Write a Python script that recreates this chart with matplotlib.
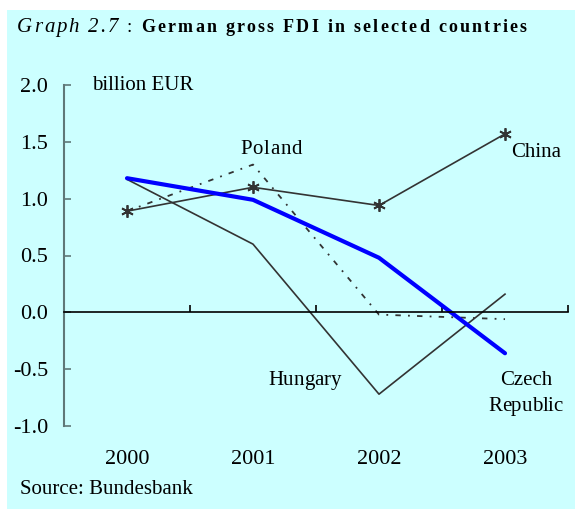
import matplotlib.pyplot as plt
from matplotlib.patches import Rectangle
from matplotlib.font_manager import FontProperties

years = ["2000", "2001", "2002", "2003"]
china = [0.89, 1.10, 0.94, 1.57]
czech = [1.18, 0.99, 0.48, -0.36]
hungary = [1.17, 0.60, -0.72, 0.16]
poland = [0.89, 1.30, -0.02, -0.06]
yticks = [2.0, 1.5, 1.0, 0.5, 0.0, -0.5, -1.0]

plt.rcParams['font.family'] = ['Liberation Serif', 'DejaVu Serif']
bg = "#ccffff"
W, H = 575, 509

fig = plt.figure(figsize=(5.75, 5.09), dpi=100)
fig.patch.set_facecolor("white")
fig.patches.append(Rectangle((7 / W, 0), 1, 1 - 10 / H, transform=fig.transFigure,
                             facecolor=bg, edgecolor="none", zorder=-5))
renderer = fig.canvas.get_renderer()


def text_w(s, fp):
    # width in px of s (trailing spaces counted via a guard char)
    w1, _, _ = renderer.get_text_width_height_descent(s + "|", fp, ismath=False)
    w2, _, _ = renderer.get_text_width_height_descent("|", fp, ismath=False)
    return w1 - w2


def spaced(x0, x1, y, s, **kw):
    # letter-spaced text spread from x0 to x1 (pixels), baseline at y (pixels from top)
    fp = FontProperties(family=plt.rcParams['font.family'], size=kw.get("fontsize", 13),
                        weight=kw.get("fontweight", "normal"), style=kw.get("style", "normal"))
    total = text_w(s, fp)
    extra = (x1 - x0 - total) / max(len(s) - 1, 1)
    for i, ch in enumerate(s):
        if ch == " ":
            continue
        xp = x0 + text_w(s[:i], fp) + i * extra
        fig.text(xp / W, 1 - y / H, ch, va="baseline", ha="left", **kw)


ax = fig.add_axes([64 / W, 1 - 426 / H, 504 / W, 341 / H])
ax.set_facecolor("none")
x = range(len(years))

ax.plot(x, hungary, color="#333333", lw=1.2)
ax.plot(x, poland, color="#333333", lw=1.3, linestyle=(0, (3, 4, 1, 4)))
ax.plot(x, china, color="#333333", lw=1.2, marker=(6, 2, 0), ms=9, mew=1.3)
ax.plot(x, czech, color="#0000ff", lw=3, solid_capstyle="round")

ax.set_xlim(-0.5, 3.5)
ax.set_ylim(-1.0, 2.0)
ax.set_yticks(yticks)
ax.set_yticklabels([f"{v:.1f}" for v in yticks], fontsize=16)
ax.tick_params(axis="y", direction="in", length=5, width=1.2, color="#5f7878", pad=11.5)

for s in ["top", "right"]:
    ax.spines[s].set_visible(False)
ax.spines["left"].set_color("#5f7878")
ax.spines["left"].set_linewidth(1.5)
ax.spines["bottom"].set_position(("data", 0))
ax.spines["bottom"].set_linewidth(1.2)

ax.set_xticks(list(x))
ax.set_xticklabels(years, fontsize=16)
ax.set_xticks([-0.5, 0.5, 1.5, 2.5, 3.5], minor=True)
ax.tick_params(axis="x", which="major", length=0, pad=99)
ax.tick_params(axis="x", which="minor", direction="in", length=5, width=1.2)

ax.text(0.055, 1.0, "billion EUR", transform=ax.transAxes, fontsize=15, va="center", ha="left")
spaced(240, 302, 154, "Poland", fontsize=15)
ax.text(3.25, 1.41, "China", fontsize=15, ha="center", va="center")
spaced(268, 341, 385, "Hungary", fontsize=15)
ax.text(3.167, -0.6, "Czech", fontsize=15, ha="center", va="center")
spaced(488, 563, 411, "Republic", fontsize=15)

spaced(17, 118, 32, "Graph 2.7", fontsize=15, style="italic")
fig.text(127 / W, 1 - 32 / H, ":", fontsize=14, va="baseline")
spaced(141, 527, 32, "German gross FDI in selected countries", fontsize=13, fontweight="bold")
fig.text(20 / W, 1 - 490 / H, "Source: Bundesbank", fontsize=15, va="center")

fig.savefig("out.png", dpi=100)
